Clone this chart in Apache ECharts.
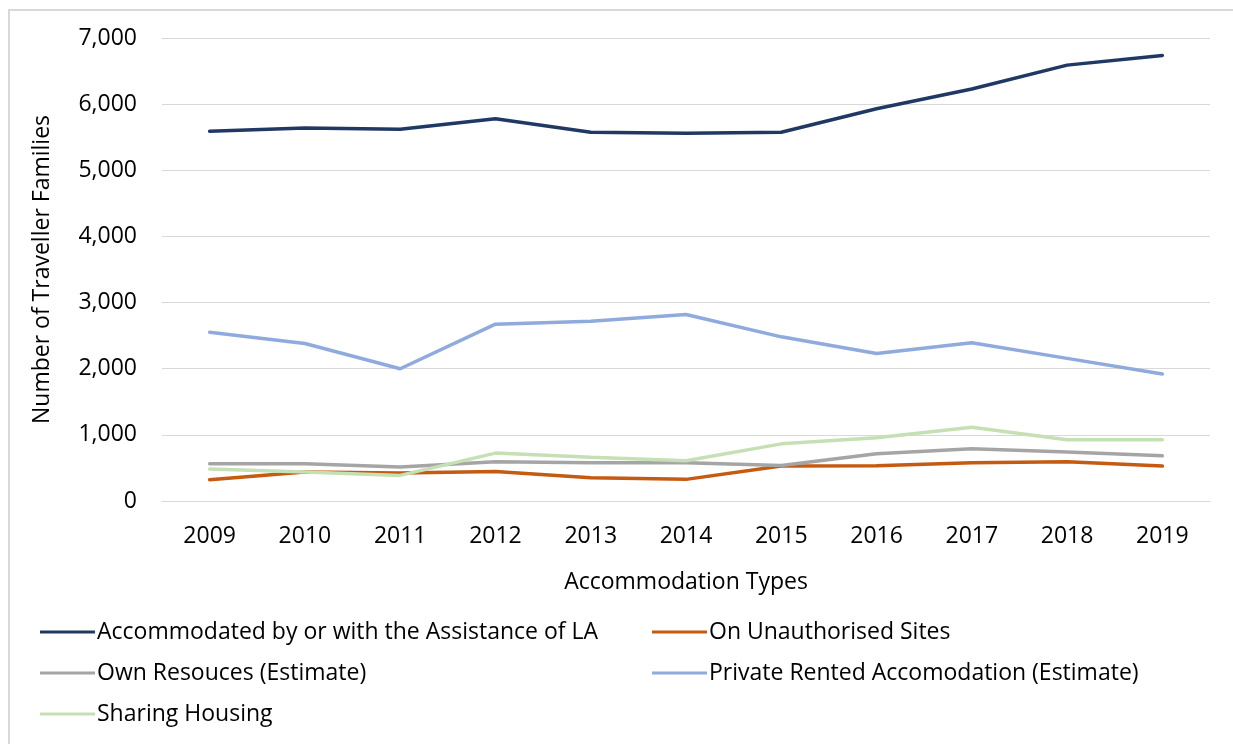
<!DOCTYPE html>
<html>
<head>
<meta charset="utf-8">
<script src="https://cdn.jsdelivr.net/npm/echarts@6/dist/echarts.min.js"></script>
<style>
  html, body { margin: 0; padding: 0; background: #fff; }
  #chart { width: 1233px; height: 744px; }
</style>
</head>
<body>
<div id="chart"></div>
<script>
const years = ['2009', '2010', '2011', '2012', '2013', '2014', '2015', '2016', '2017', '2018', '2019']
const assistedLA = [5590, 5640, 5620, 5780, 5575, 5560, 5575, 5930, 6230, 6590, 6735]
const unauthorised = [322, 437, 422, 447, 352, 327, 528, 533, 578, 593, 528]
const ownResources = [563, 563, 513, 593, 578, 578, 538, 714, 789, 739, 683]
const privateRented = [2553, 2382, 2000, 2673, 2719, 2819, 2482, 2231, 2392, 2156, 1920]
const sharingHousing = [482, 437, 387, 724, 663, 608, 864, 955, 1116, 925, 925]

const names = [
  'Accommodated by or with the Assistance of LA',
  'On Unauthorised Sites',
  'Own Resouces (Estimate)',
  'Private Rented Accomodation (Estimate)',
  'Sharing Housing'
]
const colors = ['#203864', '#C55A11', '#A5A5A5', '#8FAADC', '#C5E0B4']
const values = [assistedLA, unauthorised, ownResources, privateRented, sharingHousing]

const font = 'Open Sans'
const fontSize = 23
const chart = echarts.init(document.getElementById('chart'))

// 图例分两列，纵向排列
const legendCol = (left, data) => ({
  top: 613,
  left,
  orient: 'vertical',
  itemWidth: 55,
  itemHeight: 3,
  itemGap: 13,
  icon: 'rect',
  data,
  textStyle: { color: '#000', fontSize, fontFamily: font, lineHeight: 28, padding: [0, 0, 0, -3] },
})

chart.setOption({
  animation: false,
  color: colors,
  grid: { left: 162, right: 23, top: 38, bottom: 243, containLabel: false },
  graphic: [{
    type: 'rect',
    shape: { x: 9, y: 10, width: 1400, height: 900 },
    style: { fill: 'none', stroke: '#D9D9D9', lineWidth: 2 },
    silent: true,
  }],
  legend: [
    legendCol(35, [names[0], names[2], names[4]]),
    legendCol(647, [names[1], names[3]]),
  ],
  xAxis: {
    type: 'category',
    data: years,
    name: 'Accommodation Types',
    nameLocation: 'middle',
    nameGap: 70,
    nameTextStyle: { color: '#000', fontSize, fontFamily: font },
    axisLine: { lineStyle: { color: '#D9D9D9', width: 1 } },
    axisTick: { show: false },
    axisLabel: { color: '#000', fontSize, fontFamily: font, margin: 24 },
  },
  yAxis: {
    type: 'value',
    min: 0,
    max: 7000,
    interval: 1000,
    name: 'Number of Traveller Families',
    nameLocation: 'middle',
    nameGap: 108,
    nameTextStyle: { color: '#000', fontSize, fontFamily: font },
    axisLine: { show: false },
    axisTick: { show: false },
    axisLabel: {
      color: '#000', fontSize, fontFamily: font, margin: 25,
      formatter: (v) => v.toLocaleString('en-US'),
    },
    splitLine: { lineStyle: { color: '#D9D9D9', width: 1 } },
  },
  series: names.map((name, i) => ({
    name,
    type: 'line',
    data: values[i],
    symbol: 'none',
    lineStyle: { color: colors[i], width: 3.5, cap: 'round' },
    itemStyle: { color: colors[i] },
  })),
})
</script>
</body>
</html>
